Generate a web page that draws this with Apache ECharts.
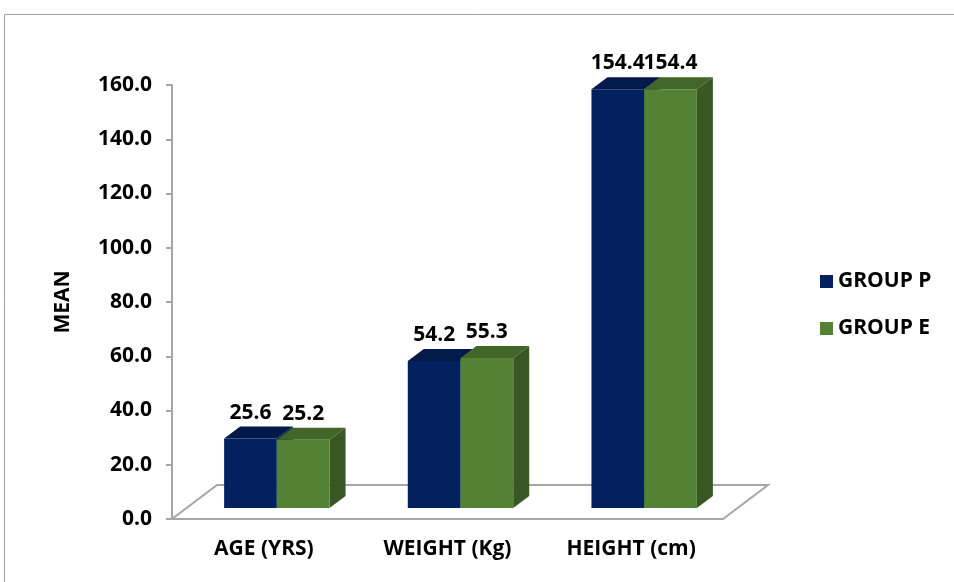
<!DOCTYPE html>
<html>
<head>
<meta charset="utf-8">
<script src="https://cdn.jsdelivr.net/npm/echarts@6/dist/echarts.min.js"></script>
<style>
    html, body { margin: 0; padding: 0; background: #fff; }
    #main { width: 954px; height: 582px; }
</style>
</head>
<body>
<div id="main"></div>
<script>
var categories = ['AGE (YRS)', 'WEIGHT (Kg)', 'HEIGHT (cm)'];
var groupP = [25.6, 54.2, 154.4];
var groupE = [25.2, 55.3, 154.4];
var seriesNames = ['GROUP P', 'GROUP E'];
var yTicks = [0, 20, 40, 60, 80, 100, 120, 140, 160];

// front / top / side colours for each group
var faceColors = [
    {front: '#03215e', top: '#021a4a', side: '#021a4a'},
    {front: '#548235', top: '#416628', side: '#385723'}
];

var font = '"Open Sans", Lato, sans-serif';
var fs = 21;

// 3d look: bar front sits a bit into the floor, bars have a small depth
var barShift = [13, -11];
var barDepth = [16, -12];
var floorDepth = [45, -34];

function barRender(which) {
    return function (params, api) {
        var cat = api.value(0);
        var v = api.value(1);
        var band = api.size([1, 0])[0];
        var w = band * 0.287;
        var base = api.coord([cat, 0]);
        var top = api.coord([cat, v]);
        var cx = base[0] + barShift[0];
        var x0 = which === 0 ? cx - w : cx;
        var x1 = x0 + w;
        var yB = base[1] + barShift[1];
        var yT = top[1] + barShift[1];
        var dx = barDepth[0], dy = barDepth[1];
        var c = faceColors[which];
        return {
            type: 'group',
            children: [
                {type: 'polygon', shape: {points: [[x1, yT], [x1 + dx, yT + dy], [x1 + dx, yB + dy], [x1, yB]]},
                    style: {fill: c.side}},
                {type: 'polygon', shape: {points: [[x0, yT], [x1, yT], [x1 + dx, yT + dy], [x0 + dx, yT + dy]]},
                    style: {fill: c.top}},
                {type: 'rect', shape: {x: x0, y: yT, width: w, height: yB - yT},
                    style: {fill: c.front}},
                {type: 'text', x: (x0 + x1) / 2, y: yT - 26,
                    style: {text: v.toFixed(1), fill: '#000', font: 'bold ' + fs + 'px ' + font,
                        textAlign: 'center', textVerticalAlign: 'middle'}}
            ]
        };
    };
}

function floorRender(params, api) {
    var band = api.size([1, 0])[0];
    var l = api.coord([0, 0]);
    var r = api.coord([categories.length - 1, 0]);
    var xl = l[0] - band / 2, xr = r[0] + band / 2, y = l[1];
    var dx = floorDepth[0], dy = floorDepth[1];
    return {
        type: 'polygon',
        shape: {points: [[xl, y], [xr, y], [xr + dx, y + dy], [xl + dx, y + dy]]},
        style: {fill: 'none', stroke: '#a6a6a6', lineWidth: 2}
    };
}

var option = {
    animation: false,
    backgroundColor: '#fff',
    graphic: [{
        type: 'rect', shape: {x: 4.5, y: 14.5, width: 960, height: 600},
        style: {fill: 'none', stroke: '#a0a0a0', lineWidth: 1}
    }],
    grid: {left: 172, right: 231, top: 85, bottom: 63},
    legend: {
        orient: 'vertical', left: 815, top: 266, itemGap: 26,
        itemWidth: 13, itemHeight: 13, icon: 'rect', itemStyle: {borderWidth: 0},
        data: [
            {name: seriesNames[0], itemStyle: {color: faceColors[0].front}},
            {name: seriesNames[1], itemStyle: {color: faceColors[1].front}}
        ],
        textStyle: {fontFamily: font, fontWeight: 'bold', fontSize: fs, color: '#000'}
    },
    xAxis: {
        type: 'category', data: categories,
        axisLine: {show: false}, axisTick: {show: false},
        axisLabel: {margin: 20, fontFamily: font, fontWeight: 'bold', fontSize: fs, color: '#000'}
    },
    yAxis: {
        type: 'value', min: yTicks[0], max: yTicks[yTicks.length - 1], interval: 20,
        name: 'MEAN', nameLocation: 'middle', nameGap: 98, nameRotate: 90,
        nameTextStyle: {fontFamily: font, fontWeight: 'bold', fontSize: fs, color: '#000'},
        axisLine: {show: true, lineStyle: {color: '#a6a6a6', width: 2}},
        axisTick: {show: true, length: 6, lineStyle: {color: '#a6a6a6', width: 2}},
        splitLine: {show: false},
        axisLabel: {margin: 20, fontFamily: font, fontWeight: 'bold', fontSize: fs, color: '#000',
            formatter: function (v) { return v.toFixed(1); }}
    },
    series: [
        {type: 'custom', name: 'floor', z: 1, renderItem: floorRender, data: [[0, 0]], silent: true},
        {type: 'custom', name: seriesNames[0], z: 2, renderItem: barRender(0),
            itemStyle: {color: faceColors[0].front},
            data: groupP.map(function (v, i) { return [i, v]; })},
        {type: 'custom', name: seriesNames[1], z: 3, renderItem: barRender(1),
            itemStyle: {color: faceColors[1].front},
            data: groupE.map(function (v, i) { return [i, v]; })}
    ]
};

var chart = echarts.init(document.getElementById('main'));
chart.setOption(option);
</script>
</body>
</html>
